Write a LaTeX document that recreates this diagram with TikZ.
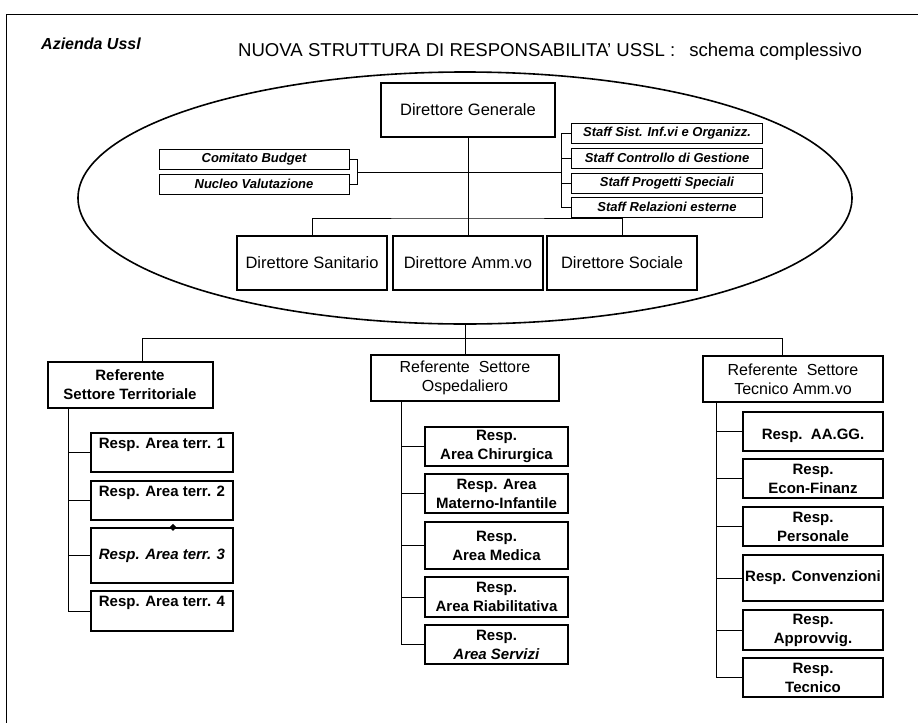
\documentclass[tikz,border=0pt]{standalone}
\usepackage{fontspec}
\setmainfont{Liberation Sans}
\usetikzlibrary{shapes.geometric}
\tikzset{
  dirbox/.style={draw, line width=2pt, minimum width=150pt, minimum height=54pt, inner sep=0pt, font=\fontsize{16.5}{19}\selectfont},
  staffbox/.style={draw, line width=.9pt, minimum width=191pt, minimum height=20pt, inner sep=0pt, font=\fontsize{13}{14}\selectfont\bfseries\itshape},
  refbox/.style={draw, line width=2pt, minimum height=46pt, inner sep=0pt, align=center, font=\fontsize{16}{19}\selectfont},
  respbox/.style={draw, line width=1.3pt, minimum width=142pt, inner sep=0pt, align=center, font=\fontsize{15}{19}\selectfont\bfseries},
  link/.style={line width=.9pt},
}
\begin{document}
\begin{tikzpicture}[x=1pt, y=-1pt]
\useasboundingbox (0,0) rectangle (918,723);
\draw[line width=1pt](918,14)--(6,14)--(6,723);

\node (az) at (91,44){\fontsize{16}{18}\selectfont\bfseries\itshape Azienda Ussl};
\node (tit) at (550,52){\fontsize{18.6}{20}\selectfont NUOVA STRUTTURA DI RESPONSABILITA' USSL :\hspace{14pt}schema complessivo};

\draw[line width=1.6pt](465,198) ellipse[x radius=387pt, y radius=126pt];

% direzione
\node[dirbox, minimum width=174pt] (dg) at (468,110){Direttore Generale};
\node[dirbox] (san) at (312,263){Direttore Sanitario};
\node[dirbox] (amm) at (468,263){Direttore Amm.vo};
\node[dirbox] (soc) at (622,263){Direttore Sociale};

\node[staffbox, minimum width=190pt] (cb) at (254,159){Comitato Budget};
\node[staffbox, minimum width=190pt] (nv) at (254,184){Nucleo Valutazione};
\node[staffbox] (s1) at (667,133){Staff Sist. Inf.vi e Organizz.};
\node[staffbox] (s2) at (667,158){Staff Controllo di Gestione};
\node[staffbox] (s3) at (667,183){Staff Progetti Speciali};
\node[staffbox] (s4) at (667,207){Staff Relazioni esterne};

\coordinate (lb) at (357,172);
\coordinate (rb) at (561,172);
\coordinate (hd) at (468,218);
\draw[link](cb.east)-|(lb);
\draw[link](nv.east)-|(lb);
\draw[link](lb)--(rb);
\draw[link](s1.west)-|(rb);
\draw[link](s4.west)-|(rb);
\foreach \s in {s2,s3}
  \draw[link](\s.west)--(\s.west -| rb);
\draw[link](dg.south)--(amm.north);
\draw[link](san.north)|-(hd)-|(soc.north);

% settori
\node[refbox, font=\fontsize{15}{19}\selectfont\bfseries, minimum width=165pt] (ter) at (130,385){Referente\\Settore Territoriale};
\node[refbox, minimum width=188pt] (osp) at (465,378){Referente\ \ Settore\\Ospedaliero};
\node[refbox, minimum width=180pt] (tec) at (793,379){Referente\ \ Settore\\Tecnico Amm.vo};

\coordinate (eb) at (465,323);
\coordinate (tl) at (142,338);
\coordinate (tr) at (782,338);
\draw[link](eb)--(osp.north);
\draw[link](tl)--(tr);
\draw[link](tl)--(tl |- ter.north);
\draw[link](tr)--(tr |- tec.north);

% territoriale
\node[respbox, minimum height=39pt] (t1) at (162,452.5){Resp. Area terr. 1\\\mbox{}};
\node[respbox, minimum height=39pt] (t2) at (162,500.5){Resp. Area terr. 2\\\mbox{}};
\node[respbox, minimum height=55pt, font=\fontsize{15}{19}\selectfont\bfseries\itshape] (t3) at (162,555.5){Resp. Area terr. 3};
\node[respbox, minimum height=40pt] (t4) at (162,611){Resp. Area terr. 4\\\mbox{}};
\node[diamond, fill, inner sep=0pt, minimum size=7pt] at ([xshift=11pt]t3.north){};

\coordinate (tv) at (68,408);
\draw[link](tv)|-(t4.west);
\foreach \t in {t1,t2,t3}
  \draw[link](\t.west)--(\t.west -| tv);

% ospedaliero
\node[respbox, minimum width=143pt, minimum height=39pt] (o1) at (496.5,446.5){Resp.\\Area Chirurgica};
\node[respbox, minimum width=143pt, minimum height=39pt] (o2) at (496.5,493.5){Resp. Area\\Materno-Infantile};
\node[respbox, minimum width=143pt, minimum height=47pt] (o3) at (496.5,545.5){Resp.\\Area Medica};
\node[respbox, minimum width=143pt, minimum height=40pt] (o4) at (496.5,597){Resp.\\Area Riabilitativa};
\node[respbox, minimum width=143pt, minimum height=39pt] (o5) at (496.5,644.5){Resp.\\\textit{Area Servizi}};

\coordinate (ov) at (401,401);
\draw[link](ov)|-(o5.west);
\foreach \o in {o1,o2,o3,o4}
  \draw[link](\o.west)--(\o.west -| ov);

% tecnico
\node[respbox, minimum width=140pt, minimum height=39pt] (a1) at (813,431.5){\mbox{}\\Resp.\ \ AA.GG.};
\node[respbox, minimum width=140pt, minimum height=39pt] (a2) at (813,478.5){Resp.\\Econ-Finanz};
\node[respbox, minimum width=140pt, minimum height=39pt] (a3) at (813,526.5){Resp.\\Personale};
\node[respbox, minimum width=140pt, minimum height=46pt] (a4) at (813,578){Resp. Convenzioni};
\node[respbox, minimum width=140pt, minimum height=40pt] (a5) at (813,630){Resp.\\Approvvig.};
\node[respbox, minimum width=140pt, minimum height=39pt] (a6) at (813,677.5){Resp.\\Tecnico};

\coordinate (av) at (716,402);
\draw[link](av)|-(a6.west);
\foreach \a in {a1,a2,a3,a4,a5}
  \draw[link](\a.west)--(\a.west -| av);
\end{tikzpicture}
\end{document}
